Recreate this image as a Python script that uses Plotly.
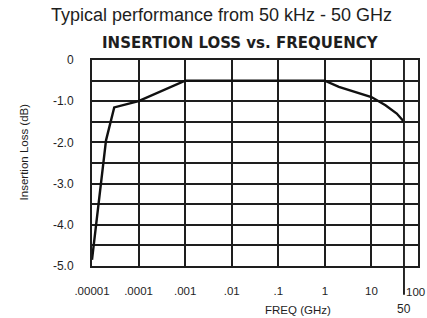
import plotly.graph_objects as go
import math

# Data
freq_ghz = [1e-5, 2e-5, 3e-5, 1e-4, 1e-3, 1, 2, 10, 20, 35, 50]
loss_db = [-4.85, -1.95, -1.15, -1.0, -0.5, -0.5, -0.65, -0.9, -1.1, -1.3, -1.5]

x_tick_vals = [1e-5, 1e-4, 1e-3, 1e-2, 1e-1, 1, 10, 100]
x_tick_text = [".00001", ".0001", ".001", ".01", ".1", "1", "10", ""]
y_tick_vals = [0, -0.5, -1, -1.5, -2, -2.5, -3, -3.5, -4, -4.5, -5]
y_tick_text = ["0", "", "-1.0", "", "-2.0", "", "-3.0", "", "-4.0", "", "-5.0"]
marker_freq = 50

INK = "#1e1e1e"
FONT = "Liberation Sans, Arial, sans-serif"

fig = go.Figure()
fig.add_trace(go.Scatter(x=freq_ghz, y=loss_db, mode="lines",
                         line=dict(color="#111111", width=2.4), showlegend=False))

fig.update_layout(
    width=427, height=318,
    margin=dict(l=92, r=7, t=60, b=52),
    paper_bgcolor="white", plot_bgcolor="white",
    font=dict(family=FONT, size=11, color=INK),
    showlegend=False,
)
fig.update_xaxes(type="log", range=[-5, 2], tickvals=x_tick_vals, ticktext=x_tick_text,
                 showgrid=True, gridcolor=INK, gridwidth=1.9,
                 showline=True, linecolor=INK, linewidth=2, mirror=True,
                 ticks="", ticklabelstandoff=13, tickfont=dict(size=11.5, color=INK),
                 zeroline=False)
fig.update_yaxes(range=[-5, 0], tickvals=y_tick_vals, ticktext=y_tick_text,
                 showgrid=True, gridcolor=INK, gridwidth=1.9,
                 showline=True, linecolor=INK, linewidth=2, mirror=True,
                 ticks="", ticklabelstandoff=14, tickfont=dict(size=12, color=INK),
                 zeroline=False)

# 50 GHz marker line extending below the axis
fig.add_shape(type="line", xref="x", yref="paper", x0=marker_freq, x1=marker_freq,
              y0=-0.14, y1=1, line=dict(color=INK, width=1.9))

fig.add_annotation(xref="x", yref="paper", x=math.log10(100), y=-0.125, text="100",
                   showarrow=False, xanchor="left", yanchor="middle", xshift=-14,
                   font=dict(size=11.5, color=INK))
fig.add_annotation(xref="x", yref="paper", x=math.log10(marker_freq), y=-0.21, text="50",
                   showarrow=False, xanchor="center", yanchor="middle",
                   font=dict(size=12, color=INK))
fig.add_annotation(xref="paper", yref="paper", x=(299 - 92) / 328, y=-0.215, text="FREQ (GHz)",
                   showarrow=False, xanchor="center", yanchor="middle",
                   font=dict(size=11.5, color=INK))
fig.add_annotation(xref="paper", yref="paper", x=(24 - 92) / 328, y=(266 - 152) / 206,
                   text="Insertion Loss (dB)",
                   showarrow=False, textangle=-90, xanchor="center", yanchor="middle",
                   font=dict(size=11.5, color=INK))
fig.add_annotation(xref="paper", yref="paper", x=(222 - 92) / 328, y=1 + 45 / 206,
                   text="Typical performance from 50 kHz - 50 GHz",
                   showarrow=False, xanchor="center", yanchor="middle",
                   font=dict(size=18, color=INK))
fig.add_annotation(xref="paper", yref="paper", x=(241 - 92) / 328, y=1 + 17 / 206,
                   text="<b>INSERTION LOSS vs. FREQUENCY</b>",
                   showarrow=False, xanchor="center", yanchor="middle",
                   font=dict(size=15, color=INK, family="DejaVu Sans, sans-serif"))

fig.write_html("out.html", config={"displayModeBar": False},
               post_script="document.body.style.margin='0';document.body.style.overflow='hidden';")
